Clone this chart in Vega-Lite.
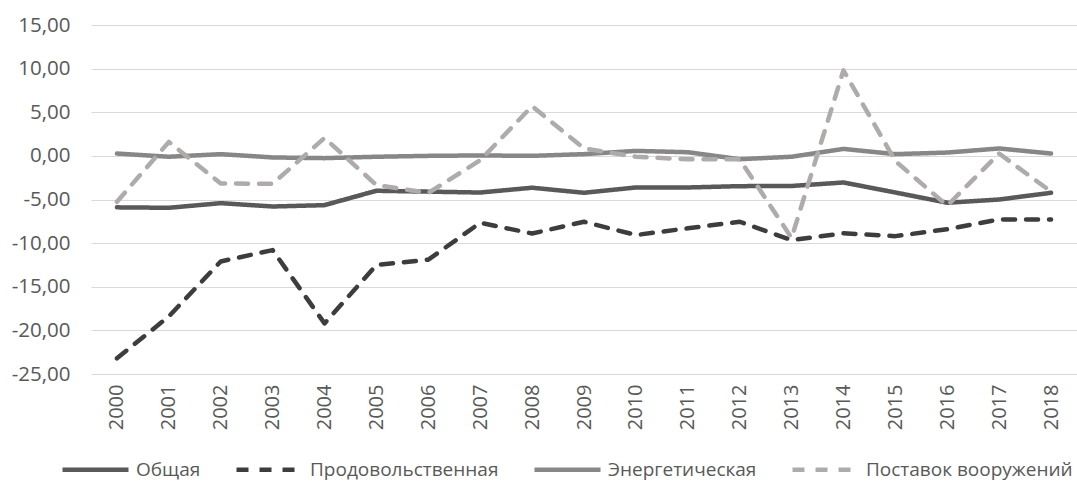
{
  "$schema": "https://vega.github.io/schema/vega-lite/v6.json",
  "autosize": {"type": "none"},
  "width": 986,
  "height": 349,
  "padding": {"left": 91, "top": 25, "right": 0, "bottom": 109},
  "background": "white",
  "config": {
    "view": {"stroke": null},
    "font": "Open Sans"
  },
  "data": {
    "values": [
      {"year": "2000", "series": "Общая", "value": -5.9},
      {"year": "2001", "series": "Общая", "value": -5.95},
      {"year": "2002", "series": "Общая", "value": -5.42},
      {"year": "2003", "series": "Общая", "value": -5.8},
      {"year": "2004", "series": "Общая", "value": -5.65},
      {"year": "2005", "series": "Общая", "value": -4.0},
      {"year": "2006", "series": "Общая", "value": -4.1},
      {"year": "2007", "series": "Общая", "value": -4.2},
      {"year": "2008", "series": "Общая", "value": -3.65},
      {"year": "2009", "series": "Общая", "value": -4.23},
      {"year": "2010", "series": "Общая", "value": -3.62},
      {"year": "2011", "series": "Общая", "value": -3.62},
      {"year": "2012", "series": "Общая", "value": -3.47},
      {"year": "2013", "series": "Общая", "value": -3.45},
      {"year": "2014", "series": "Общая", "value": -3.05},
      {"year": "2015", "series": "Общая", "value": -4.2},
      {"year": "2016", "series": "Общая", "value": -5.37},
      {"year": "2017", "series": "Общая", "value": -5.0},
      {"year": "2018", "series": "Общая", "value": -4.23},
      {"year": "2000", "series": "Продовольственная", "value": -23.2},
      {"year": "2001", "series": "Продовольственная", "value": -18.4},
      {"year": "2002", "series": "Продовольственная", "value": -12.1},
      {"year": "2003", "series": "Продовольственная", "value": -10.8},
      {"year": "2004", "series": "Продовольственная", "value": -19.2},
      {"year": "2005", "series": "Продовольственная", "value": -12.5},
      {"year": "2006", "series": "Продовольственная", "value": -11.9},
      {"year": "2007", "series": "Продовольственная", "value": -7.67},
      {"year": "2008", "series": "Продовольственная", "value": -8.9},
      {"year": "2009", "series": "Продовольственная", "value": -7.55},
      {"year": "2010", "series": "Продовольственная", "value": -9.07},
      {"year": "2011", "series": "Продовольственная", "value": -8.3},
      {"year": "2012", "series": "Продовольственная", "value": -7.55},
      {"year": "2013", "series": "Продовольственная", "value": -9.65},
      {"year": "2014", "series": "Продовольственная", "value": -8.88},
      {"year": "2015", "series": "Продовольственная", "value": -9.2},
      {"year": "2016", "series": "Продовольственная", "value": -8.4},
      {"year": "2017", "series": "Продовольственная", "value": -7.28},
      {"year": "2018", "series": "Продовольственная", "value": -7.28},
      {"year": "2000", "series": "Энергетическая", "value": 0.27},
      {"year": "2001", "series": "Энергетическая", "value": -0.1},
      {"year": "2002", "series": "Энергетическая", "value": 0.2},
      {"year": "2003", "series": "Энергетическая", "value": -0.18},
      {"year": "2004", "series": "Энергетическая", "value": -0.26},
      {"year": "2005", "series": "Энергетическая", "value": -0.1},
      {"year": "2006", "series": "Энергетическая", "value": 0.0},
      {"year": "2007", "series": "Энергетическая", "value": 0.05},
      {"year": "2008", "series": "Энергетическая", "value": 0.0},
      {"year": "2009", "series": "Энергетическая", "value": 0.2},
      {"year": "2010", "series": "Энергетическая", "value": 0.57},
      {"year": "2011", "series": "Энергетическая", "value": 0.42},
      {"year": "2012", "series": "Энергетическая", "value": -0.38},
      {"year": "2013", "series": "Энергетическая", "value": -0.1},
      {"year": "2014", "series": "Энергетическая", "value": 0.8},
      {"year": "2015", "series": "Энергетическая", "value": 0.2},
      {"year": "2016", "series": "Энергетическая", "value": 0.38},
      {"year": "2017", "series": "Энергетическая", "value": 0.85},
      {"year": "2018", "series": "Энергетическая", "value": 0.27},
      {"year": "2000", "series": "Поставок вооружений", "value": -5.26},
      {"year": "2001", "series": "Поставок вооружений", "value": 1.6},
      {"year": "2002", "series": "Поставок вооружений", "value": -3.16},
      {"year": "2003", "series": "Поставок вооружений", "value": -3.2},
      {"year": "2004", "series": "Поставок вооружений", "value": 2.06},
      {"year": "2005", "series": "Поставок вооружений", "value": -3.35},
      {"year": "2006", "series": "Поставок вооружений", "value": -4.25},
      {"year": "2007", "series": "Поставок вооружений", "value": -0.5},
      {"year": "2008", "series": "Поставок вооружений", "value": 5.7},
      {"year": "2009", "series": "Поставок вооружений", "value": 0.85},
      {"year": "2010", "series": "Поставок вооружений", "value": -0.1},
      {"year": "2011", "series": "Поставок вооружений", "value": -0.4},
      {"year": "2012", "series": "Поставок вооружений", "value": -0.4},
      {"year": "2013", "series": "Поставок вооружений", "value": -9.4},
      {"year": "2014", "series": "Поставок вооружений", "value": 9.8},
      {"year": "2015", "series": "Поставок вооружений", "value": -0.6},
      {"year": "2016", "series": "Поставок вооружений", "value": -5.7},
      {"year": "2017", "series": "Поставок вооружений", "value": 0.27},
      {"year": "2018", "series": "Поставок вооружений", "value": -4.1}
    ]
  },
  "mark": {"type": "line", "strokeWidth": 4.5, "strokeCap": "round", "strokeJoin": "round"},
  "encoding": {
    "x": {
      "field": "year",
      "type": "ordinal",
      "scale": {"type": "point", "padding": 0.5},
      "axis": {
        "title": null,
        "labelAngle": -90,
        "labelAlign": "right",
        "labelBaseline": "middle",
        "labelFontSize": 20,
        "labelColor": "#595959",
        "labelPadding": 10,
        "ticks": false,
        "domain": false,
        "grid": false
      }
    },
    "y": {
      "field": "value",
      "type": "quantitative",
      "scale": {"domain": [-25, 15], "nice": false, "zero": false},
      "axis": {
        "title": null,
        "values": [-25, -20, -15, -10, -5, 0, 5, 10, 15],
        "labelExpr": "replace(replace(format(datum.value, '.2f'), '.', ','), '−', '-')",
        "labelFontSize": 20.5,
        "labelColor": "#595959",
        "labelPadding": 21,
        "ticks": false,
        "domain": false,
        "grid": true,
        "gridColor": "#d9d9d9",
        "gridWidth": 1
      }
    },
    "color": {
      "field": "series",
      "type": "nominal",
      "scale": {
        "domain": ["Общая", "Продовольственная", "Энергетическая", "Поставок вооружений"],
        "range": ["#595959", "#3d3d3d", "#878787", "#afabab"]
      },
      "legend": {
        "title": null,
        "orient": "none",
        "direction": "horizontal",
        "legendX": -31,
        "legendY": 409,
        "symbolType": "stroke",
        "symbolSize": 4356,
        "symbolStrokeWidth": 4.5,
        "labelFontSize": 19,
        "labelColor": "#595959",
        "labelOffset": 5,
        "labelLimit": 0,
        "columnPadding": 26
      }
    },
    "strokeDash": {
      "field": "series",
      "type": "nominal",
      "scale": {
        "domain": ["Общая", "Продовольственная", "Энергетическая", "Поставок вооружений"],
        "range": [[1, 0], [12, 11], [1, 0], [12, 11]]
      },
      "legend": null
    }
  }
}
